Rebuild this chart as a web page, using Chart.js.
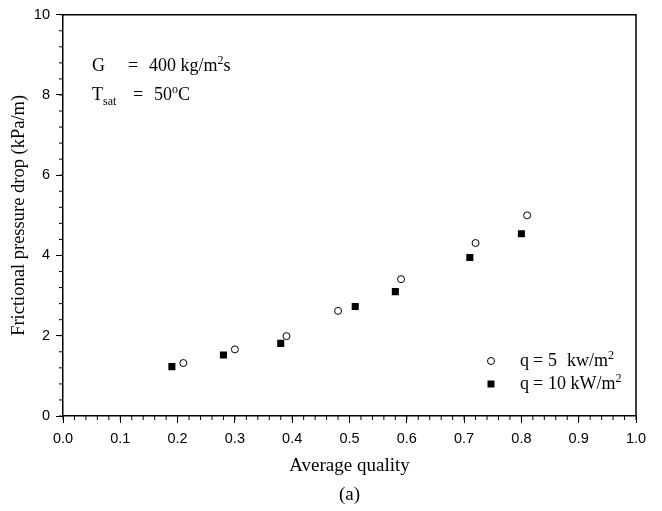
<!DOCTYPE html>
<html>
<head>
<meta charset="utf-8">
<script src="https://cdn.jsdelivr.net/npm/chart.js@4"></script>
<style>
  html, body { margin: 0; padding: 0; background: #fff; }
  #wrap { width: 662px; height: 511px; }
</style>
</head>
<body>
<div id="wrap"><canvas id="c" width="662" height="511"></canvas></div>
<script>
// ---------- Data ----------
const qualityQ5 = [0.21, 0.30, 0.39, 0.48, 0.59, 0.72, 0.81];
const dropQ5    = [1.32, 1.66, 1.99, 2.62, 3.41, 4.31, 5.00];
const qualityQ10 = [0.19, 0.28, 0.38, 0.51, 0.58, 0.71, 0.80];
const dropQ10    = [1.23, 1.52, 1.81, 2.73, 3.10, 3.95, 4.54];

const xMajor = [0, 0.1, 0.2, 0.3, 0.4, 0.5, 0.6, 0.7, 0.8, 0.9, 1.0];
const yMajor = [0, 2, 4, 6, 8, 10];
const xMinorStep = 0.02;
const yMinorStep = 0.4;

const serif = '"Liberation Serif", "Times New Roman", serif';
const sans = '"Liberation Sans", Arial, sans-serif';

function toPoints(xs, ys) {
  return xs.map((x, i) => ({ x: x, y: ys[i] }));
}

// draw runs of [text, kind] left to right; kind = n / sup / sub
function drawRuns(ctx, x, y, runs, size) {
  let cx = x;
  runs.forEach(([txt, kind]) => {
    const s = kind === 'n' ? size : Math.round(size * 0.68);
    const dy = kind === 'sup' ? -size * 0.4 : kind === 'sub' ? size * 0.28 : 0;
    ctx.font = s + 'px ' + serif;
    ctx.fillText(txt, cx, y + dy);
    cx += ctx.measureText(txt).width;
  });
}

// ---------- frame, minor ticks, annotations, legend ----------
const extras = {
  id: 'extras',
  afterDraw(chart) {
    const ctx = chart.ctx;
    const a = chart.chartArea;
    const xs = chart.scales.x, ys = chart.scales.y;
    ctx.save();
    ctx.strokeStyle = '#000';
    ctx.lineWidth = 1.5;
    // top and right edges of the box
    ctx.beginPath();
    ctx.moveTo(a.left, a.top); ctx.lineTo(a.right, a.top); ctx.lineTo(a.right, a.bottom);
    ctx.stroke();
    // minor ticks
    ctx.lineWidth = 1;
    ctx.beginPath();
    for (let v = 0; v <= 1.0001; v += xMinorStep) {
      const px = xs.getPixelForValue(v);
      ctx.moveTo(px, a.bottom); ctx.lineTo(px, a.bottom + 4);
    }
    for (let v = 0; v <= 10.0001; v += yMinorStep) {
      const py = ys.getPixelForValue(v);
      ctx.moveTo(a.left, py); ctx.lineTo(a.left - 4, py);
    }
    ctx.stroke();

    // condition text, top left
    ctx.fillStyle = '#000';
    ctx.textBaseline = 'alphabetic';
    ctx.textAlign = 'left';
    const L = a.left, T = a.top;
    drawRuns(ctx, L + 29, T + 56, [['G', 'n']], 18);
    drawRuns(ctx, L + 65, T + 56, [['=', 'n']], 18);
    drawRuns(ctx, L + 86, T + 56, [['400 kg/m', 'n'], ['2', 'sup'], ['s', 'n']], 18);
    drawRuns(ctx, L + 29, T + 85, [['T', 'n'], ['sat', 'sub']], 18);
    drawRuns(ctx, L + 70, T + 85, [['=', 'n']], 18);
    drawRuns(ctx, L + 91, T + 85, [['50', 'n'], ['o', 'sup'], ['C', 'n']], 18);

    // legend, bottom right
    const lx = a.right - 145, ly1 = a.bottom - 55, ly2 = a.bottom - 32;
    ctx.lineWidth = 1;
    ctx.beginPath();
    ctx.arc(lx, ly1, 3.5, 0, Math.PI * 2);
    ctx.fillStyle = '#fff'; ctx.fill(); ctx.stroke();
    ctx.fillStyle = '#000';
    ctx.fillRect(lx - 3.5, ly2 - 3.5, 7, 7);
    drawRuns(ctx, lx + 29, ly1 + 5, [['q', 'n']], 18);
    drawRuns(ctx, lx + 42, ly1 + 5, [['=', 'n']], 18);
    drawRuns(ctx, lx + 57, ly1 + 5, [['5', 'n']], 18);
    drawRuns(ctx, lx + 76, ly1 + 5, [['kw/m', 'n'], ['2', 'sup']], 18);
    drawRuns(ctx, lx + 29, ly2 + 5, [['q', 'n']], 18);
    drawRuns(ctx, lx + 42, ly2 + 5, [['=', 'n']], 18);
    drawRuns(ctx, lx + 57, ly2 + 5, [['10 kW/m', 'n'], ['2', 'sup']], 18);
    ctx.restore();
  }
};

new Chart(document.getElementById('c'), {
  type: 'scatter',
  data: {
    datasets: [
      {
        label: 'q = 5 kw/m2',
        data: toPoints(qualityQ5, dropQ5),
        pointStyle: 'circle',
        pointRadius: 3.5,
        pointBackgroundColor: '#fff',
        pointBorderColor: '#000',
        pointBorderWidth: 1
      },
      {
        label: 'q = 10 kW/m2',
        data: toPoints(qualityQ10, dropQ10),
        pointStyle: 'rect',
        pointRadius: 5,
        pointBackgroundColor: '#000',
        pointBorderColor: '#000',
        pointBorderWidth: 0
      }
    ]
  },
  options: {
    responsive: false,
    animation: false,
    events: [],
    layout: { padding: { left: 0, top: 14, right: 26, bottom: 0 } },
    plugins: { legend: { display: false }, tooltip: { enabled: false } },
    scales: {
      x: {
        type: 'linear', min: 0, max: 1,
        afterFit: s => { s.height = 95; },
        afterBuildTicks: s => { s.ticks = xMajor.map(v => ({ value: v })); },
        border: { display: true, color: '#000', width: 1.5 },
        grid: { display: true, drawOnChartArea: false, drawTicks: true, tickLength: 7, color: '#000', lineWidth: 1 },
        ticks: { color: '#000', font: { family: sans, size: 14.5 }, padding: 7, maxRotation: 0,
                 callback: v => v.toFixed(1) },
        title: { display: true, text: ['Average quality', '(a)'], color: '#000',
                 font: { family: serif, size: 19, lineHeight: 1.53 }, padding: { top: 0, bottom: 1 } }
      },
      y: {
        type: 'linear', min: 0, max: 10,
        afterFit: s => { s.width = 63; },
        afterBuildTicks: s => { s.ticks = yMajor.map(v => ({ value: v })); },
        border: { display: true, color: '#000', width: 1.5 },
        grid: { display: true, drawOnChartArea: false, drawTicks: true, tickLength: 7, color: '#000', lineWidth: 1 },
        ticks: { color: '#000', font: { family: sans, size: 14.5 }, padding: 6,
                 callback: v => String(v) },
        title: { display: true, text: 'Frictional pressure drop (kPa/m)', color: '#000',
                 font: { family: serif, size: 18.5, lineHeight: 1.2 }, padding: { top: 8, bottom: 0 } }
      }
    }
  },
  plugins: [extras]
});
</script>
</body>
</html>
